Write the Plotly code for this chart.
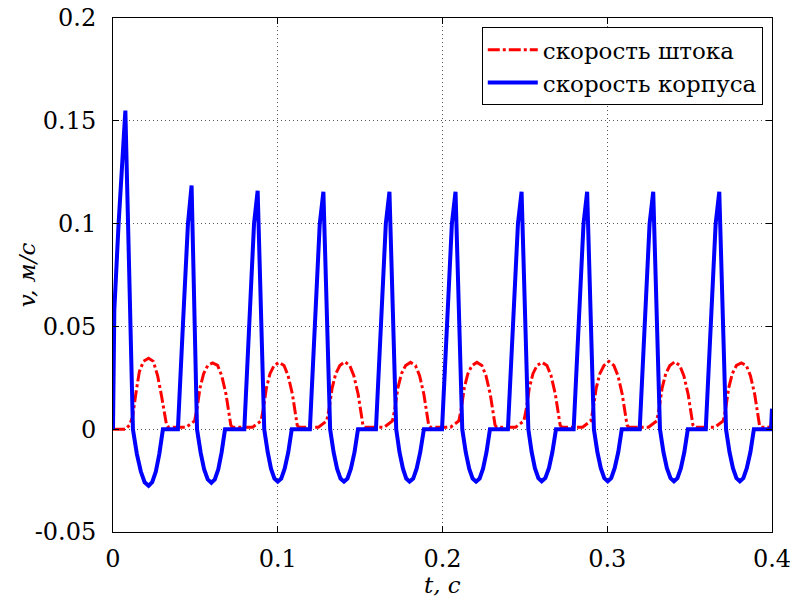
import plotly.graph_objects as go

# ---- data ----
# скорость корпуса (blue)
t_body = [
    0.0000, 0.0008, 0.0034, 0.0056, 0.0075, 0.0121,
    0.0145, 0.0169, 0.0192, 0.0216, 0.0238, 0.0260, 0.0281, 0.0303,
    0.0394, 0.0424, 0.0455, 0.0477, 0.0510,
    0.0532, 0.0553, 0.0575, 0.0597, 0.0618, 0.0639, 0.0659, 0.0680,
    0.0797, 0.0825, 0.0856, 0.0878, 0.0918,
    0.0939, 0.0959, 0.0980, 0.1000, 0.1021, 0.1042, 0.1064, 0.1085,
    0.1195, 0.1224, 0.1255, 0.1277, 0.1318,
    0.1339, 0.1360, 0.1381, 0.1402, 0.1423, 0.1444, 0.1466, 0.1487,
    0.1596, 0.1625, 0.1656, 0.1678, 0.1719,
    0.1739, 0.1760, 0.1780, 0.1800, 0.1822, 0.1843, 0.1865, 0.1887,
    0.1997, 0.2026, 0.2057, 0.2079, 0.2120,
    0.2141, 0.2162, 0.2183, 0.2204, 0.2225, 0.2246, 0.2267, 0.2288,
    0.2397, 0.2427, 0.2458, 0.2480, 0.2521,
    0.2541, 0.2561, 0.2582, 0.2602, 0.2624, 0.2646, 0.2667, 0.2689,
    0.2796, 0.2825, 0.2856, 0.2878, 0.2919,
    0.2940, 0.2961, 0.2982, 0.3003, 0.3024, 0.3045, 0.3067, 0.3088,
    0.3197, 0.3226, 0.3257, 0.3279, 0.3320,
    0.3341, 0.3362, 0.3384, 0.3405, 0.3426, 0.3447, 0.3468, 0.3489,
    0.3598, 0.3627, 0.3658, 0.3680, 0.3721,
    0.3742, 0.3763, 0.3784, 0.3805, 0.3826, 0.3847, 0.3869, 0.3890,
    0.3994, 0.4000,
]
v_body = [
    0.0000, 0.0580, 0.1000, 0.1300, 0.1550, 0.0000,
    -0.0121, -0.0206, -0.0258, -0.0275, -0.0258, -0.0206, -0.0121, 0.0000,
    0.0000, 0.0500, 0.1000, 0.1185, 0.0000,
    -0.0114, -0.0195, -0.0244, -0.0260, -0.0244, -0.0195, -0.0114, 0.0000,
    0.0000, 0.0500, 0.1000, 0.1160, 0.0000,
    -0.0112, -0.0192, -0.0240, -0.0255, -0.0240, -0.0192, -0.0112, 0.0000,
    0.0000, 0.0500, 0.1000, 0.1155, 0.0000,
    -0.0112, -0.0192, -0.0240, -0.0255, -0.0240, -0.0192, -0.0112, 0.0000,
    0.0000, 0.0500, 0.1000, 0.1155, 0.0000,
    -0.0112, -0.0192, -0.0240, -0.0255, -0.0240, -0.0192, -0.0112, 0.0000,
    0.0000, 0.0500, 0.1000, 0.1155, 0.0000,
    -0.0112, -0.0192, -0.0240, -0.0255, -0.0240, -0.0192, -0.0112, 0.0000,
    0.0000, 0.0500, 0.1000, 0.1155, 0.0000,
    -0.0111, -0.0190, -0.0238, -0.0253, -0.0238, -0.0190, -0.0111, 0.0000,
    0.0000, 0.0500, 0.1000, 0.1155, 0.0000,
    -0.0111, -0.0190, -0.0238, -0.0253, -0.0238, -0.0190, -0.0111, 0.0000,
    0.0000, 0.0500, 0.1000, 0.1155, 0.0000,
    -0.0111, -0.0190, -0.0238, -0.0253, -0.0238, -0.0190, -0.0111, 0.0000,
    0.0000, 0.0500, 0.1000, 0.1155, 0.0000,
    -0.0111, -0.0190, -0.0238, -0.0253, -0.0238, -0.0190, -0.0111, 0.0000,
    0.0000, 0.0100,
]

# скорость штока (red)
t_rod = [
    0.0000, 0.0078, 0.0100, 0.0119, 0.0140, 0.0160, 0.0185, 0.0216,
    0.0245, 0.0271, 0.0295, 0.0315, 0.0325, 0.0335,
    0.0445, 0.0495, 0.0510, 0.0528, 0.0550, 0.0575, 0.0605, 0.0635, 0.0660, 0.0686, 0.0703, 0.0715, 0.0725,
    0.0848, 0.0898, 0.0913, 0.0931, 0.0953, 0.0978, 0.1008, 0.1038, 0.1063, 0.1089, 0.1106, 0.1118, 0.1128,
    0.1247, 0.1297, 0.1312, 0.1330, 0.1352, 0.1377, 0.1407, 0.1437, 0.1462, 0.1488, 0.1505, 0.1517, 0.1527,
    0.1646, 0.1696, 0.1711, 0.1729, 0.1751, 0.1776, 0.1806, 0.1836, 0.1861, 0.1887, 0.1904, 0.1916, 0.1926,
    0.2049, 0.2099, 0.2114, 0.2132, 0.2154, 0.2179, 0.2209, 0.2239, 0.2264, 0.2290, 0.2307, 0.2319, 0.2329,
    0.2444, 0.2494, 0.2509, 0.2527, 0.2549, 0.2574, 0.2604, 0.2634, 0.2659, 0.2685, 0.2702, 0.2714, 0.2724,
    0.2850, 0.2900, 0.2915, 0.2933, 0.2955, 0.2980, 0.3010, 0.3040, 0.3065, 0.3091, 0.3108, 0.3120, 0.3130,
    0.3250, 0.3300, 0.3315, 0.3333, 0.3355, 0.3380, 0.3410, 0.3440, 0.3465, 0.3491, 0.3508, 0.3520, 0.3530,
    0.3654, 0.3704, 0.3719, 0.3737, 0.3759, 0.3784, 0.3814, 0.3844, 0.3869, 0.3895, 0.3912, 0.3924, 0.3934,
    0.4000,
]
v_rod = [
    0.0000, 0.0000, 0.0020, 0.0060, 0.0180, 0.0280, 0.0330, 0.0345,
    0.0330, 0.0260, 0.0160, 0.0060, 0.0020, 0.0010,
    0.0010, 0.0040, 0.0100, 0.0200, 0.0270, 0.0310, 0.0322, 0.0310, 0.0260, 0.0170, 0.0080, 0.0020, 0.0010,
    0.0010, 0.0040, 0.0100, 0.0200, 0.0270, 0.0310, 0.0325, 0.0310, 0.0260, 0.0170, 0.0080, 0.0020, 0.0010,
    0.0010, 0.0040, 0.0100, 0.0200, 0.0270, 0.0310, 0.0328, 0.0310, 0.0260, 0.0170, 0.0080, 0.0020, 0.0010,
    0.0010, 0.0040, 0.0100, 0.0200, 0.0270, 0.0310, 0.0325, 0.0310, 0.0260, 0.0170, 0.0080, 0.0020, 0.0010,
    0.0010, 0.0040, 0.0100, 0.0200, 0.0270, 0.0310, 0.0325, 0.0310, 0.0260, 0.0170, 0.0080, 0.0020, 0.0010,
    0.0010, 0.0040, 0.0100, 0.0200, 0.0270, 0.0310, 0.0325, 0.0310, 0.0260, 0.0170, 0.0080, 0.0020, 0.0010,
    0.0010, 0.0040, 0.0100, 0.0200, 0.0270, 0.0310, 0.0330, 0.0310, 0.0260, 0.0170, 0.0080, 0.0020, 0.0010,
    0.0010, 0.0040, 0.0100, 0.0200, 0.0270, 0.0310, 0.0328, 0.0310, 0.0260, 0.0170, 0.0080, 0.0020, 0.0010,
    0.0010, 0.0040, 0.0100, 0.0200, 0.0270, 0.0310, 0.0322, 0.0310, 0.0260, 0.0170, 0.0080, 0.0020, 0.0010,
    0.0010,
]

series_names = ["скорость штока", "скорость корпуса"]
x_tickvals = [0, 0.1, 0.2, 0.3, 0.4]
x_ticktext = ["0", "0.1", "0.2", "0.3", "0.4"]
y_tickvals = [-0.05, 0, 0.05, 0.1, 0.15, 0.2]
y_ticktext = ["-0.05", "0", "0.05", "0.1", "0.15", "0.2"]
x_title = "<i>t, c</i>"
y_title = "<i>v, м/с</i>"

FONT = "DejaVu Serif"

fig = go.Figure()
fig.add_trace(go.Scatter(
    x=t_rod, y=v_rod, mode="lines", name=series_names[0],
    line=dict(color="#FF0000", width=3, dash="12px,3px,3px,3px"),
))
fig.add_trace(go.Scatter(
    x=t_body, y=v_body, mode="lines", name=series_names[1],
    line=dict(color="#0000FF", width=4),
))

axis_common = dict(
    showline=True, linecolor="black", linewidth=1, mirror="ticks",
    ticks="inside", ticklen=6, tickcolor="black", tickwidth=1,
    showgrid=True, gridcolor="#555555", gridwidth=1, griddash="1px,3px",
    zeroline=False, automargin=False,
    tickfont=dict(family=FONT, size=24, color="black"),
)

fig.update_xaxes(
    range=[0, 0.4], tickvals=x_tickvals, ticktext=x_ticktext,
    ticklabelstandoff=5,
    **axis_common,
)
fig.update_yaxes(
    range=[-0.05, 0.2], tickvals=y_tickvals, ticktext=y_ticktext,
    ticklabelstandoff=11,
    **axis_common,
)

title_font = dict(family=FONT, size=23, color="black")
fig.add_annotation(
    text=x_title, xref="paper", yref="paper", x=0.5, y=-0.103,
    xanchor="center", yanchor="middle", showarrow=False, font=title_font,
)
fig.add_annotation(
    text=y_title, xref="paper", yref="paper", x=-0.13, y=0.5,
    xanchor="center", yanchor="middle", textangle=-90, showarrow=False, font=title_font,
)

fig.update_layout(
    width=795, height=602,
    margin=dict(l=113, r=23, t=18, b=70),
    paper_bgcolor="white", plot_bgcolor="white",
    font=dict(family=FONT, size=23, color="black"),
    showlegend=True,
    legend=dict(
        x=0.986, y=0.982, xanchor="right", yanchor="top",
        bgcolor="white", bordercolor="black", borderwidth=1,
        font=dict(family=FONT, size=23, color="black"),
        tracegroupgap=0, itemwidth=50,
    ),
)

fig.write_html("out.html", config={"displayModeBar": False},
               post_script="document.body.style.margin='0';")
